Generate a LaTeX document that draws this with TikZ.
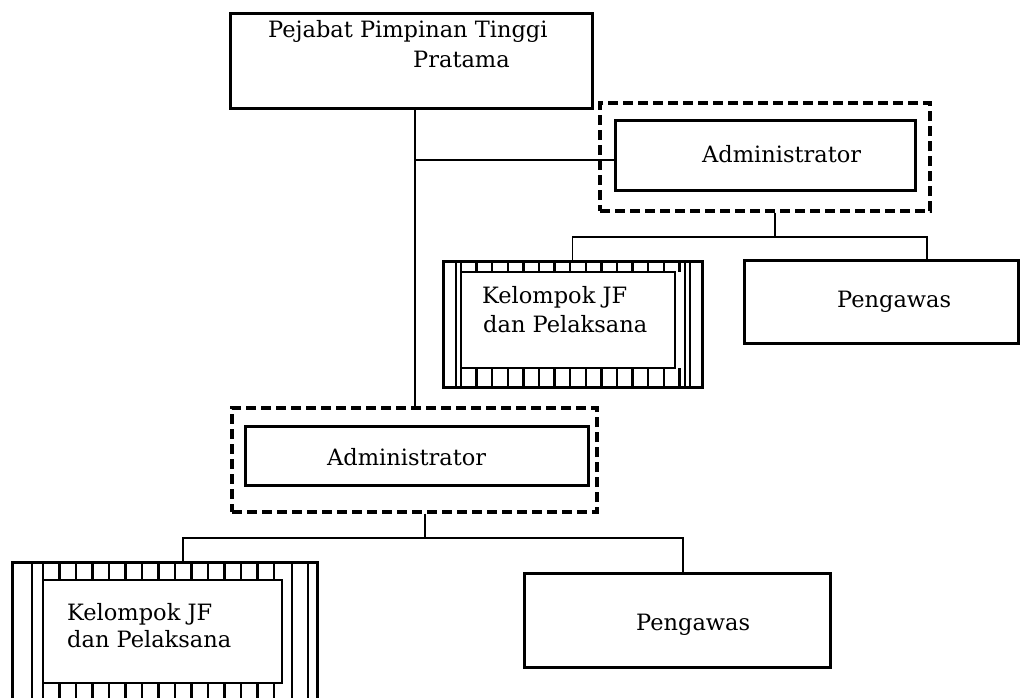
\documentclass[tikz,border=0pt]{standalone}
\usepackage{fontspec}
\setmainfont{DejaVu Serif}
\begin{document}
\begin{tikzpicture}[x=1pt,y=-1pt,
  box/.style={draw, line width=3pt, rectangle, inner sep=0pt},
  ibox/.style={draw, line width=2.4pt, rectangle, inner sep=0pt},
  dbox/.style={draw, line width=3.3pt, dash pattern=on 10pt off 5pt, rectangle, inner sep=0pt},
  conn/.style={draw, line width=1.8pt},
  lbl/.style={anchor=base west, inner sep=0pt, font=\fontsize{22.5}{26}\selectfont},
  tick/.style={line width=2.5pt}]
\useasboundingbox (0,0) rectangle (1022,697);
\clip (0,0) rectangle (1022,697);

% boxes
\node[box, minimum width=362pt, minimum height=95pt] (top) at (411,60.5) {};
\node[dbox, minimum width=330pt, minimum height=108pt] (adm1o) at (765,157) {};
\node[box, minimum width=300pt, minimum height=70pt] (adm1i) at (765,155) {};
\node[box, minimum width=259pt, minimum height=126pt] (kel1o) at (572.5,324) {};
\node[ibox, minimum width=214pt, minimum height=96pt] (kel1i) at (568,320) {};
\node[box, minimum width=274pt, minimum height=83pt] (peng1) at (881,301.5) {};
\node[dbox, minimum width=365pt, minimum height=104pt] (adm2o) at (414.5,460) {};
\node[box, minimum width=343pt, minimum height=59pt] (adm2i) at (416.5,455.5) {};
\node[box, minimum width=305pt, minimum height=150pt] (kel2o) at (164.5,637) {};
\node[ibox, minimum width=239pt, minimum height=103pt] (kel2i) at (162.5,631.5) {};
\node[box, minimum width=306pt, minimum height=94pt] (peng2) at (677,620) {};

% hatching of upper Kelompok box
\foreach \i in {0,...,14} {
  \draw[tick] (461+\i*15.6,261) -- (461+\i*15.6,272);
  \draw[tick] (461+\i*15.6,368) -- (461+\i*15.6,387);
}
\draw[tick] (456,261) -- (456,387);
\draw[tick] (685,261) -- (685,387);
\draw[tick] (690,261) -- (690,387);

% hatching of lower Kelompok box
\foreach \i in {0,...,14} {
  \draw[tick] (43+\i*16.5,562) -- (43+\i*16.5,580);
  \draw[tick] (43+\i*16.5,683) -- (43+\i*16.5,712);
}
\draw[tick] (32,562) -- (32,712);
\draw[tick] (292,562) -- (292,712);
\draw[tick] (308,562) -- (308,712);

% texts
\node[lbl] (t1) at (268,37) {Pejabat Pimpinan Tinggi};
\node[lbl] (t2) at (413,67) {Pratama};
\node[lbl] (t3) at (702,162) {Administrator};
\node[lbl] (t4) at (837,307) {Pengawas};
\node[lbl] (t5) at (482,303) {Kelompok JF};
\node[lbl] (t6) at (483,332) {dan Pelaksana};
\node[lbl] (t7) at (327,465) {Administrator};
\node[lbl] (t8) at (636,630) {Pengawas};
\node[lbl] (t9) at (67,620) {Kelompok JF};
\node[lbl] (t10) at (67,647) {dan Pelaksana};

% connectors
\coordinate (trunk) at (415,0);
\coordinate (br1) at (415,160);
\coordinate (d1) at (775,237);
\coordinate (p1) at (927,0);
\coordinate (d2) at (425,538);
\coordinate (p2) at (683,0);
\coordinate (k2) at (183,0);
\draw[conn] (top.south -| trunk) -- (adm2o.north -| trunk);
\draw[conn] (br1) -- (adm1i.west |- br1);
\draw[conn] (adm1o.south -| d1) -- (d1);
\draw[conn] (kel1o.north) |- (p1 |- d1) -- (peng1.north -| p1);
\draw[conn] (adm2o.south -| d2) -- (d2);
\draw[conn] (kel2o.north -| k2) |- (p2 |- d2) -- (peng2.north -| p2);
\end{tikzpicture}
\end{document}
